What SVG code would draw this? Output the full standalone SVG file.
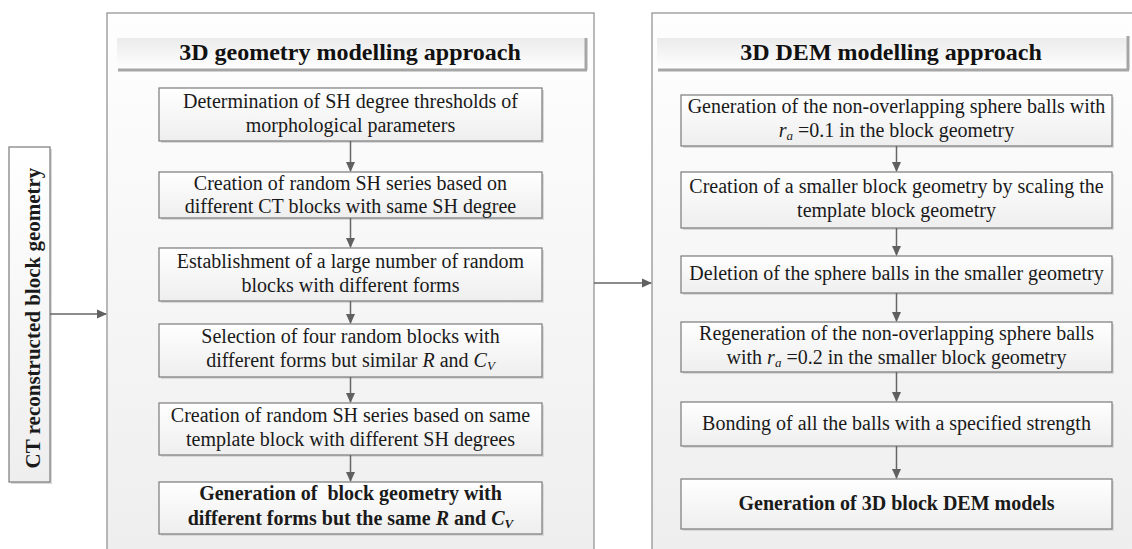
<svg xmlns="http://www.w3.org/2000/svg" width="1132" height="549" viewBox="0 0 1132 549">
<defs>
<linearGradient id="panelG" x1="0" y1="0" x2="0" y2="1"><stop offset="0" stop-color="#fefefe"/><stop offset="1" stop-color="#eeeeee"/></linearGradient>
<linearGradient id="boxG" x1="0" y1="0" x2="0" y2="1"><stop offset="0" stop-color="#ffffff"/><stop offset="1" stop-color="#eeeeee"/></linearGradient>
<linearGradient id="headG" x1="0" y1="0" x2="0" y2="1"><stop offset="0" stop-color="#ebebeb"/><stop offset="1" stop-color="#ffffff"/></linearGradient>
<marker id="arr" markerWidth="10" markerHeight="10" refX="9" refY="5" orient="auto" markerUnits="userSpaceOnUse"><path d="M0,0.5 L10,5 L0,9.5 Z" fill="#606060"/></marker>
</defs>
<style>
.panel{fill:url(#panelG);stroke:#8c8c8c;stroke-width:1.2}
.box{fill:url(#boxG);stroke:#7a7a7a;stroke-width:1.2}
.shadow{fill:#d9d9d9}
.head{fill:url(#headG)}
.hline{stroke:#a6a6a6;stroke-width:3}
.t{font-family:"Liberation Serif","Times New Roman",serif;font-size:20px;fill:#1a1a1a;text-anchor:middle}
.b{font-weight:bold}
.h{font-family:"Liberation Serif","Times New Roman",serif;font-size:24px;font-weight:bold;fill:#111;text-anchor:middle}
.i{font-style:italic}
.sub{font-size:13px;font-style:italic}
.c{stroke:#666;stroke-width:1.5;fill:none;marker-end:url(#arr)}
</style>
<rect width="1132" height="549" fill="#ffffff"/>

<g id="panel-geometry">
<rect class="panel" x="107" y="13" width="487" height="545"/>
<rect class="head" x="117" y="38" width="469" height="32"/>
<line class="hline" x1="118" y1="70" x2="587" y2="70"/>
<line class="hline" x1="586" y1="38" x2="586" y2="70"/>
<text class="h" x="350" y="60">3D geometry modelling approach</text>
</g>

<g id="panel-dem">
<rect class="panel" x="652" y="13" width="490" height="545"/>
<rect class="head" x="657" y="38" width="471" height="32"/>
<line class="hline" x1="658" y1="70" x2="1129" y2="70"/>
<line class="hline" x1="1128" y1="36" x2="1128" y2="70"/>
<text class="h" x="891" y="60">3D DEM modelling approach</text>
</g>

<g id="ct-block">
<rect class="shadow" x="11" y="149" width="41" height="335"/>
<rect class="box" x="9" y="147" width="41" height="335"/>
<text class="t b" transform="translate(40,318) rotate(-90)" style="font-size:21px">CT reconstructed block geometry</text>
</g>

<g id="g1">
<rect class="shadow" x="161" y="90" width="383" height="53"/>
<rect class="box" x="159" y="88" width="383" height="53"/>
<text class="t" x="350.5" y="108">Determination of SH degree thresholds of</text>
<text class="t" x="350.5" y="132">morphological parameters</text>
</g>
<g id="g2">
<rect class="shadow" x="161" y="174" width="383" height="46"/>
<rect class="box" x="159" y="172" width="383" height="46"/>
<text class="t" x="350.5" y="190">Creation of random SH series based on</text>
<text class="t" x="350.5" y="213">different CT blocks with same SH degree</text>
</g>
<g id="g3">
<rect class="shadow" x="161" y="250" width="383" height="53"/>
<rect class="box" x="159" y="248" width="383" height="53"/>
<text class="t" x="350.5" y="268">Establishment of a large number of random</text>
<text class="t" x="350.5" y="292">blocks with different forms</text>
</g>
<g id="g4">
<rect class="shadow" x="161" y="326" width="383" height="53"/>
<rect class="box" x="159" y="324" width="383" height="53"/>
<text class="t" x="350.5" y="343">Selection of four random blocks with</text>
<text class="t" x="350.5" y="367">different forms but similar <tspan class="i">R</tspan> and <tspan class="i">C</tspan><tspan class="sub" dy="3">V</tspan></text>
</g>
<g id="g5">
<rect class="shadow" x="161" y="405" width="383" height="52"/>
<rect class="box" x="159" y="403" width="383" height="52"/>
<text class="t" x="350.5" y="422">Creation of random SH series based on same</text>
<text class="t" x="350.5" y="446">template block with different SH degrees</text>
</g>
<g id="g6">
<rect class="shadow" x="161" y="484" width="383" height="52"/>
<rect class="box" x="159" y="482" width="383" height="52"/>
<text class="t b" x="350.5" y="500" xml:space="preserve">Generation of  block geometry with</text>
<text class="t b" x="350.5" y="525">different forms but the same <tspan class="i">R</tspan> and <tspan class="i">C</tspan><tspan class="sub" dy="3">V</tspan></text>
</g>

<g id="d1">
<rect class="shadow" x="683" y="97" width="431" height="51"/>
<rect class="box" x="681" y="95" width="431" height="51"/>
<text class="t" x="896.5" y="113">Generation of the non-overlapping sphere balls with</text>
<text class="t" x="896.5" y="137"><tspan class="i">r</tspan><tspan class="sub" dy="3">a</tspan><tspan dy="-3"> =0.1 in the block geometry</tspan></text>
</g>
<g id="d2">
<rect class="shadow" x="683" y="174" width="431" height="56"/>
<rect class="box" x="681" y="172" width="431" height="56"/>
<text class="t" x="896.5" y="193">Creation of a smaller block geometry by scaling the</text>
<text class="t" x="896.5" y="217">template block geometry</text>
</g>
<g id="d3">
<rect class="shadow" x="683" y="258" width="431" height="37"/>
<rect class="box" x="681" y="256" width="431" height="37"/>
<text class="t" x="896.5" y="280">Deletion of the sphere balls in the smaller geometry</text>
</g>
<g id="d4">
<rect class="shadow" x="683" y="324" width="431" height="50"/>
<rect class="box" x="681" y="322" width="431" height="50"/>
<text class="t" x="896.5" y="340">Regeneration of the non-overlapping sphere balls</text>
<text class="t" x="896.5" y="364">with <tspan class="i">r</tspan><tspan class="sub" dy="3">a</tspan><tspan dy="-3"> =0.2 in the smaller block geometry</tspan></text>
</g>
<g id="d5">
<rect class="shadow" x="683" y="404" width="431" height="44"/>
<rect class="box" x="681" y="402" width="431" height="44"/>
<text class="t" x="896.5" y="430">Bonding of all the balls with a specified strength</text>
</g>
<g id="d6">
<rect class="shadow" x="683" y="481" width="431" height="50"/>
<rect class="box" x="681" y="479" width="431" height="50"/>
<text class="t b" x="896.5" y="510">Generation of 3D block DEM models</text>
</g>

<g id="connectors">
<line class="c" x1="50" y1="314" x2="106" y2="314"/>
<line class="c" x1="594" y1="283" x2="651" y2="283"/>
<line class="c" x1="350.5" y1="141" x2="350.5" y2="171"/>
<line class="c" x1="350.5" y1="218" x2="350.5" y2="247"/>
<line class="c" x1="350.5" y1="301" x2="350.5" y2="323"/>
<line class="c" x1="350.5" y1="377" x2="350.5" y2="402"/>
<line class="c" x1="350.5" y1="455" x2="350.5" y2="481"/>
<line class="c" x1="896.5" y1="146" x2="896.5" y2="171"/>
<line class="c" x1="896.5" y1="228" x2="896.5" y2="255"/>
<line class="c" x1="896.5" y1="293" x2="896.5" y2="321"/>
<line class="c" x1="896.5" y1="372" x2="896.5" y2="401"/>
<line class="c" x1="896.5" y1="446" x2="896.5" y2="478"/>
</g>
</svg>
